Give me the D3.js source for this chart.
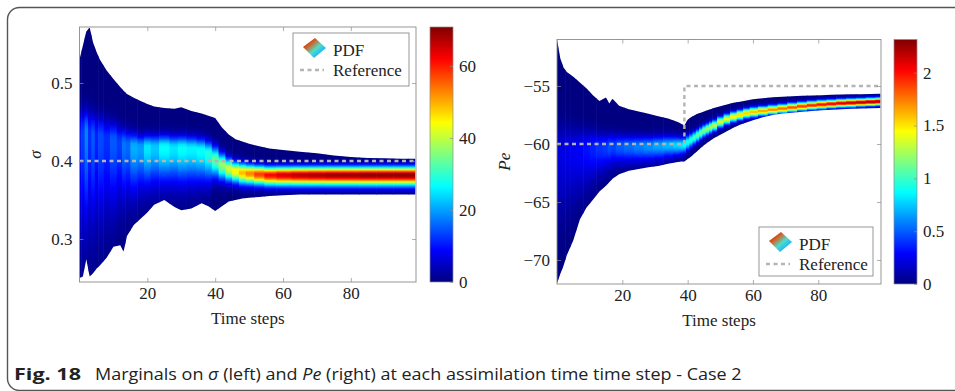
<!DOCTYPE html>
<html>
<head>
<meta charset="utf-8">
<script src="https://cdn.jsdelivr.net/npm/d3@7"></script>
<style>
html, body { margin: 0; padding: 0; background: #fff; }
svg { display: block; }
</style>
</head>
<body>
<svg id="chart" width="955" height="391"></svg>
<script>
// ---- data ----
// left panel: marginal of sigma at sampled time steps
const sigT     = [0, 1, 2, 3, 4, 5, 6, 8, 10, 12, 13, 14, 16, 18, 20, 22, 25, 28, 30, 33, 36, 38, 40, 42, 44, 46, 48, 50, 53, 56, 60, 65, 70, 75, 80, 85, 90, 95, 99];
const sigUpper = [0.530, 0.548, 0.566, 0.571, 0.552, 0.540, 0.530, 0.516, 0.505, 0.495, 0.490, 0.486, 0.481, 0.477, 0.473, 0.470, 0.468, 0.467, 0.469, 0.464, 0.461, 0.458, 0.455, 0.443, 0.434, 0.428, 0.425, 0.422, 0.419, 0.416, 0.414, 0.412, 0.410, 0.407, 0.405, 0.404, 0.4035, 0.403, 0.403];
const sigLower = [0.250, 0.252, 0.274, 0.252, 0.256, 0.262, 0.266, 0.276, 0.290, 0.292, 0.284, 0.304, 0.318, 0.326, 0.334, 0.344, 0.350, 0.341, 0.337, 0.339, 0.346, 0.342, 0.336, 0.342, 0.348, 0.350, 0.352, 0.353, 0.354, 0.355, 0.356, 0.357, 0.357, 0.357, 0.357, 0.357, 0.357, 0.357, 0.357];
const sigMode  = [0.435, 0.437, 0.438, 0.436, 0.434, 0.433, 0.432, 0.430, 0.428, 0.425, 0.423, 0.421, 0.419, 0.418, 0.418, 0.418, 0.418, 0.417, 0.417, 0.416, 0.414, 0.410, 0.402, 0.395, 0.390, 0.387, 0.385, 0.384, 0.383, 0.382, 0.382, 0.382, 0.382, 0.382, 0.382, 0.382, 0.382, 0.382, 0.382];
const sigPeak  = [11, 13, 18, 12, 15, 11, 14, 12, 15, 13, 17, 16, 21, 20, 25, 23, 27, 25, 27, 26, 27, 29, 33, 37, 41, 45, 49, 53, 58, 62, 65, 67, 68, 69, 69, 70, 70, 70, 70];
const sigSdHi  = [0.018, 0.018, 0.018, 0.018, 0.017, 0.017, 0.016, 0.015, 0.014, 0.013, 0.012, 0.012, 0.011, 0.010, 0.010, 0.010, 0.010, 0.010, 0.010, 0.010, 0.010, 0.010, 0.011, 0.010, 0.009, 0.008, 0.008, 0.0075, 0.0072, 0.007, 0.007, 0.007, 0.007, 0.007, 0.007, 0.007, 0.007, 0.007, 0.007];
const sigSdLo  = [0.085, 0.085, 0.082, 0.080, 0.078, 0.075, 0.072, 0.066, 0.060, 0.052, 0.048, 0.044, 0.040, 0.036, 0.033, 0.032, 0.030, 0.030, 0.030, 0.029, 0.027, 0.024, 0.016, 0.013, 0.011, 0.010, 0.010, 0.0095, 0.0092, 0.009, 0.009, 0.009, 0.009, 0.009, 0.009, 0.009, 0.009, 0.009, 0.009];
const sigRefT  = [0, 99];
const sigRefV  = [0.4, 0.4];

// right panel: marginal of Pe
const peT     = [0, 1, 2, 3, 5, 7, 9, 11, 13, 15, 16, 17, 19, 22, 25, 28, 31, 34,
                 37, 38, 39, 40, 41, 42, 43, 44, 45, 46, 47, 48, 50, 52, 54, 56, 58, 60, 63, 66, 69, 72, 75, 78, 81, 84, 87, 90, 93, 96, 99];
const peUpper = [-51.0, -52.6, -53.4, -53.8, -54.2, -54.7, -55.2, -55.8, -56.3, -56.0, -56.5, -56.1, -56.7, -57.0, -57.2, -57.4, -57.6, -57.8,
                 -58.1, -58.25, -58.4, -57.9, -57.7, -57.55, -57.4, -57.3, -57.2, -57.1, -57.0, -56.9, -56.75, -56.6, -56.45, -56.35, -56.25, -56.15, -56.05, -55.97, -55.92, -55.88, -55.85, -55.82, -55.79, -55.76, -55.74, -55.72, -55.7, -55.68, -55.66];
const peLower = [-72.0, -71.2, -70.5, -69.6, -68.3, -66.5, -65.5, -64.8, -64.1, -63.6, -63.3, -63.0, -62.6, -62.3, -62.15, -62.0, -61.9, -61.7,
                 -61.55, -61.5, -61.5, -61.3, -61.1, -60.85, -60.6, -60.35, -60.1, -59.9, -59.7, -59.5, -59.2, -58.9, -58.6, -58.35, -58.15, -57.95, -57.7, -57.5, -57.38, -57.3, -57.22, -57.15, -57.1, -57.05, -57.0, -56.97, -56.94, -56.92, -56.9];
const peMode  = [-60.8, -60.7, -60.6, -60.5, -60.5, -60.4, -60.4, -60.3, -60.3, -60.3, -60.2, -60.2, -60.2, -60.2, -60.2, -60.2, -60.15, -60.1,
                 -60.1, -60.1, -60.05, -59.85, -59.65, -59.45, -59.25, -59.05, -58.85, -58.7, -58.55, -58.4, -58.1, -57.85, -57.65, -57.5, -57.35, -57.25, -57.15, -57.05, -56.95, -56.85, -56.75, -56.67, -56.6, -56.54, -56.49, -56.45, -56.41, -56.37, -56.34];
const pePeak  = [0.22, 0.22, 0.23, 0.24, 0.26, 0.28, 0.32, 0.36, 0.40, 0.42, 0.47, 0.44, 0.50, 0.54, 0.58, 0.62, 0.67, 0.72,
                 0.78, 0.82, 0.88, 0.92, 0.97, 1.02, 1.07, 1.12, 1.17, 1.21, 1.25, 1.29, 1.35, 1.41, 1.47, 1.52, 1.56, 1.60, 1.66, 1.72, 1.78, 1.84, 1.90, 1.95, 2.00, 2.05, 2.10, 2.14, 2.18, 2.22, 2.25];
const peSdHi  = [1.6, 1.5, 1.4, 1.3, 1.2, 1.1, 1.0, 0.9, 0.8, 0.75, 0.7, 0.7, 0.65, 0.62, 0.6, 0.58, 0.56, 0.53,
                 0.5, 0.45, 0.42, 0.4, 0.38, 0.36, 0.35, 0.34, 0.33, 0.32, 0.32, 0.31, 0.3, 0.29, 0.28, 0.28, 0.27, 0.27, 0.26, 0.26, 0.25, 0.25, 0.24, 0.24, 0.24, 0.23, 0.23, 0.23, 0.22, 0.22, 0.22];
const peSdLo  = [3.8, 3.7, 3.5, 3.3, 3.0, 2.6, 2.2, 1.9, 1.5, 1.3, 1.2, 1.1, 1.0, 0.95, 0.9, 0.85, 0.8, 0.7,
                 0.6, 0.55, 0.5, 0.45, 0.42, 0.4, 0.38, 0.37, 0.36, 0.35, 0.34, 0.33, 0.32, 0.31, 0.3, 0.29, 0.28, 0.28, 0.27, 0.26, 0.25, 0.25, 0.24, 0.24, 0.24, 0.23, 0.23, 0.23, 0.22, 0.22, 0.22];
const peRefT  = [0, 39, 39, 99];
const peRefV  = [-60, -60, -55, -55];

const xTicks = [20, 40, 60, 80];
const sigTicks = [0.3, 0.4, 0.5];
const peTicks = [-70, -65, -60, -55];
const sigCbarTicks = [0, 20, 40, 60];
const peCbarTicks = [0, 0.5, 1, 1.5, 2];

// jet colormap (pgfplots)
const jetStops = [0, 0.125, 0.375, 0.625, 0.875, 1];
const jetColors = ['#000080', '#0000ff', '#00ffff', '#ffff00', '#ff0000', '#800000'];

const FONT = '"Liberation Serif", "Times New Roman", serif';
const svg = d3.select('#chart');
const defs = svg.append('defs');

// figure frame
svg.append('rect')
  .attr('x', 7.5).attr('y', 7.5)
  .attr('width', 1000).attr('height', 383)
  .attr('rx', 12).attr('ry', 12)
  .attr('fill', 'none').attr('stroke', '#555').attr('stroke-width', 1.4);

// legend icon gradient
const ig = defs.append('linearGradient').attr('id', 'iconGrad')
  .attr('x1', '0%').attr('y1', '0%').attr('x2', '100%').attr('y2', '100%');
[['0', '#6e1200'], ['0.3', '#d8591f'], ['0.55', '#52dcc4'], ['0.75', '#1eb8ff'], ['1', '#1030c8']]
  .forEach(s => ig.append('stop').attr('offset', s[0]).attr('stop-color', s[1]));

function panel(cfg) {
  const g = svg.append('g');
  const x = d3.scaleLinear().domain([0, 99.2]).range([cfg.x0, cfg.x1]);
  const y = d3.scaleLinear().domain(cfg.yDomain).range([cfg.y1, cfg.y0]);
  const cScale = d3.scaleLinear().domain([0, cfg.cMax]).range([cfg.y1, cfg.y0]);
  const color = d3.scaleLinear().domain(jetStops.map(s => s * cfg.cMax)).range(jetColors).clamp(true);
  const D = cfg.data;
  const n = D.t.length;

  // clip to the support of the pdf
  const pts = D.t.map((t, i) => ({t, hi: D.upper[i], lo: D.lower[i]}));
  const area = d3.area().x(p => x(p.t)).y0(p => y(p.lo)).y1(p => y(p.hi));
  defs.append('clipPath').attr('id', cfg.id + 'clip')
    .append('path').attr('d', area(pts));

  // one column per sampled step, shaded by a vertical gradient of the density
  const heat = g.append('g').attr('clip-path', `url(#${cfg.id}clip)`);
  const K = 40;
  for (let i = 0; i < n; i++) {
    const gid = cfg.id + 'col' + i;
    const grad = defs.append('linearGradient').attr('id', gid)
      .attr('gradientUnits', 'userSpaceOnUse')
      .attr('x1', 0).attr('x2', 0).attr('y1', cfg.y0).attr('y2', cfg.y1);
    const m = D.mode[i], hi = D.sdHi[i], lo = D.sdLo[i], pk = D.peak[i];
    const vTop = m + 4 * hi, vBot = m - 4 * lo;
    for (let k = 0; k <= K; k++) {
      const v = vTop - k * (vTop - vBot) / K;
      const sd = v > m ? hi : lo;
      const dens = pk * Math.exp(-0.5 * Math.pow((v - m) / sd, 2));
      const off = Math.max(0, Math.min(1, (y(v) - cfg.y0) / (cfg.y1 - cfg.y0)));
      grad.append('stop').attr('offset', off).attr('stop-color', color(dens));
    }
    const tl = i === 0 ? D.t[0] : (D.t[i - 1] + D.t[i]) / 2;
    const tr = i === n - 1 ? D.t[n - 1] : (D.t[i] + D.t[i + 1]) / 2;
    heat.append('rect')
      .attr('x', x(tl)).attr('width', x(tr) - x(tl) + 0.6)
      .attr('y', cfg.y0).attr('height', cfg.y1 - cfg.y0)
      .attr('fill', `url(#${gid})`);
  }

  // reference
  const ref = cfg.ref.t.map((t, i) => ({t, v: cfg.ref.v[i]}));
  g.append('path')
    .attr('d', d3.line().x(p => x(p.t)).y(p => y(p.v))(ref))
    .attr('fill', 'none').attr('stroke', '#b4b4b4')
    .attr('stroke-width', 2.4).attr('stroke-dasharray', '4,3.5');

  // axes: pgfplots-style inward ticks on all four sides
  const axes = [
    g.append('g').attr('transform', `translate(0,${cfg.y1})`)
      .call(d3.axisBottom(x).tickValues(xTicks).tickSize(-4).tickPadding(5).tickFormat(d3.format('d'))),
    g.append('g').attr('transform', `translate(0,${cfg.y0})`)
      .call(d3.axisTop(x).tickValues(xTicks).tickSize(-4).tickFormat('')),
    g.append('g').attr('transform', `translate(${cfg.x0},0)`)
      .call(d3.axisLeft(y).tickValues(cfg.yTicks).tickSize(-4).tickPadding(7).tickFormat(cfg.yFormat)),
    g.append('g').attr('transform', `translate(${cfg.x1},0)`)
      .call(d3.axisRight(y).tickValues(cfg.yTicks).tickSize(-4).tickFormat(''))
  ];
  axes.forEach(a => {
    a.select('.domain').remove();
    a.selectAll('line').attr('stroke', '#8c8c8c').attr('stroke-width', 0.7);
    a.selectAll('text').attr('font-family', FONT).attr('font-size', 17).attr('fill', '#222');
  });
  g.append('rect')
    .attr('x', cfg.x0).attr('y', cfg.y0)
    .attr('width', cfg.x1 - cfg.x0).attr('height', cfg.y1 - cfg.y0)
    .attr('fill', 'none').attr('stroke', '#8c8c8c').attr('stroke-width', 0.9);

  // axis labels
  g.append('text')
    .attr('x', (cfg.x0 + cfg.x1) / 2).attr('y', cfg.y1 + 42)
    .attr('text-anchor', 'middle')
    .attr('font-family', FONT).attr('font-size', 17).attr('fill', '#222')
    .text('Time steps');
  g.append('text')
    .attr('transform', `translate(${cfg.ylabX},${(cfg.y0 + cfg.y1) / 2}) rotate(-90)`)
    .attr('text-anchor', 'middle').attr('dy', '0.35em')
    .attr('font-family', FONT).attr('font-size', 17).attr('font-style', 'italic').attr('fill', '#222')
    .text(cfg.ylab);

  // colorbar
  const cg = defs.append('linearGradient').attr('id', cfg.id + 'cbar')
    .attr('x1', 0).attr('x2', 0).attr('y1', 1).attr('y2', 0);
  jetStops.forEach((s, i) => cg.append('stop').attr('offset', s).attr('stop-color', jetColors[i]));
  g.append('rect')
    .attr('x', cfg.cx0).attr('y', cfg.y0)
    .attr('width', cfg.cx1 - cfg.cx0).attr('height', cfg.y1 - cfg.y0)
    .attr('fill', `url(#${cfg.id}cbar)`).attr('stroke', '#8c8c8c').attr('stroke-width', 0.7);
  const ca = g.append('g').attr('transform', `translate(${cfg.cx1},0)`)
    .call(d3.axisRight(cScale).tickValues(cfg.cTicks).tickSize(-3).tickPadding(6).tickFormat(d3.format('~g')));
  ca.select('.domain').remove();
  ca.selectAll('line').attr('stroke', '#8c8c8c').attr('stroke-width', 0.7);
  ca.selectAll('text').attr('font-family', FONT).attr('font-size', 17).attr('fill', '#222');

  // legend
  const L = cfg.legend;
  const lg = g.append('g');
  lg.append('rect').attr('x', L.x).attr('y', L.y).attr('width', L.w).attr('height', L.h)
    .attr('fill', '#fff').attr('stroke', '#8c8c8c').attr('stroke-width', 0.9);
  const cx = L.x + 21, cy = L.y + 15;
  lg.append('polygon')
    .attr('points', [[cx + 1, cy - 10], [cx + 12, cy], [cx, cy + 10], [cx - 11, cy - 1]].map(p => p.join(',')).join(' '))
    .attr('fill', 'url(#iconGrad)');
  lg.append('text').attr('x', L.x + 40).attr('y', L.y + 23)
    .attr('font-family', FONT).attr('font-size', 17).attr('fill', '#222').text('PDF');
  lg.append('line').attr('x1', L.x + 7).attr('x2', L.x + 31).attr('y1', L.y + 37).attr('y2', L.y + 37)
    .attr('stroke', '#b4b4b4').attr('stroke-width', 2.4).attr('stroke-dasharray', '4,3.5');
  lg.append('text').attr('x', L.x + 40).attr('y', L.y + 43)
    .attr('font-family', FONT).attr('font-size', 17).attr('fill', '#222').text('Reference');
}

panel({
  id: 'sig', x0: 79.5, x1: 416, y0: 27, y1: 282,
  yDomain: [0.2449, 0.5718], yTicks: sigTicks, yFormat: d3.format('.1f'),
  cx0: 430, cx1: 453, cMax: 70.8, cTicks: sigCbarTicks,
  data: {t: sigT, upper: sigUpper, lower: sigLower, mode: sigMode, peak: sigPeak, sdHi: sigSdHi, sdLo: sigSdLo},
  ref: {t: sigRefT, v: sigRefV},
  ylab: 'σ', ylabX: 35,
  legend: {x: 293, y: 33, w: 116, h: 53}
});

panel({
  id: 'pe', x0: 557, x1: 881, y0: 39.5, y1: 284,
  yDomain: [-72.07, -50.99], yTicks: peTicks, yFormat: d3.format('d'),
  cx0: 894, cx1: 917, cMax: 2.314, cTicks: peCbarTicks,
  data: {t: peT, upper: peUpper, lower: peLower, mode: peMode, peak: pePeak, sdHi: peSdHi, sdLo: peSdLo},
  ref: {t: peRefT, v: peRefV},
  ylab: 'Pe', ylabX: 504,
  legend: {x: 759, y: 227, w: 114, h: 49}
});

// caption
const CAP = '"Open Sans", "Noto Sans", sans-serif';
function fit(sel, x, width) {
  const w = sel.node().getComputedTextLength();
  sel.attr('transform', `translate(${x},0) scale(${width / w},1) translate(${-x},0)`);
}
const fig = svg.append('text').attr('x', 14).attr('y', 380)
  .attr('font-family', CAP).attr('font-size', 16.5).attr('font-weight', 'bold').attr('fill', '#222')
  .text('Fig. 18');
fit(fig, 14, 67);
const cap = svg.append('text').attr('x', 95).attr('y', 380)
  .attr('font-family', CAP).attr('font-size', 16.5).attr('fill', '#222');
cap.append('tspan').text('Marginals on ');
cap.append('tspan').attr('font-style', 'italic').text('σ');
cap.append('tspan').text(' (left) and ');
cap.append('tspan').attr('font-style', 'italic').text('Pe');
cap.append('tspan').text(' (right) at each assimilation time time step - Case 2');
fit(cap, 95, 647);
</script>
</body>
</html>
